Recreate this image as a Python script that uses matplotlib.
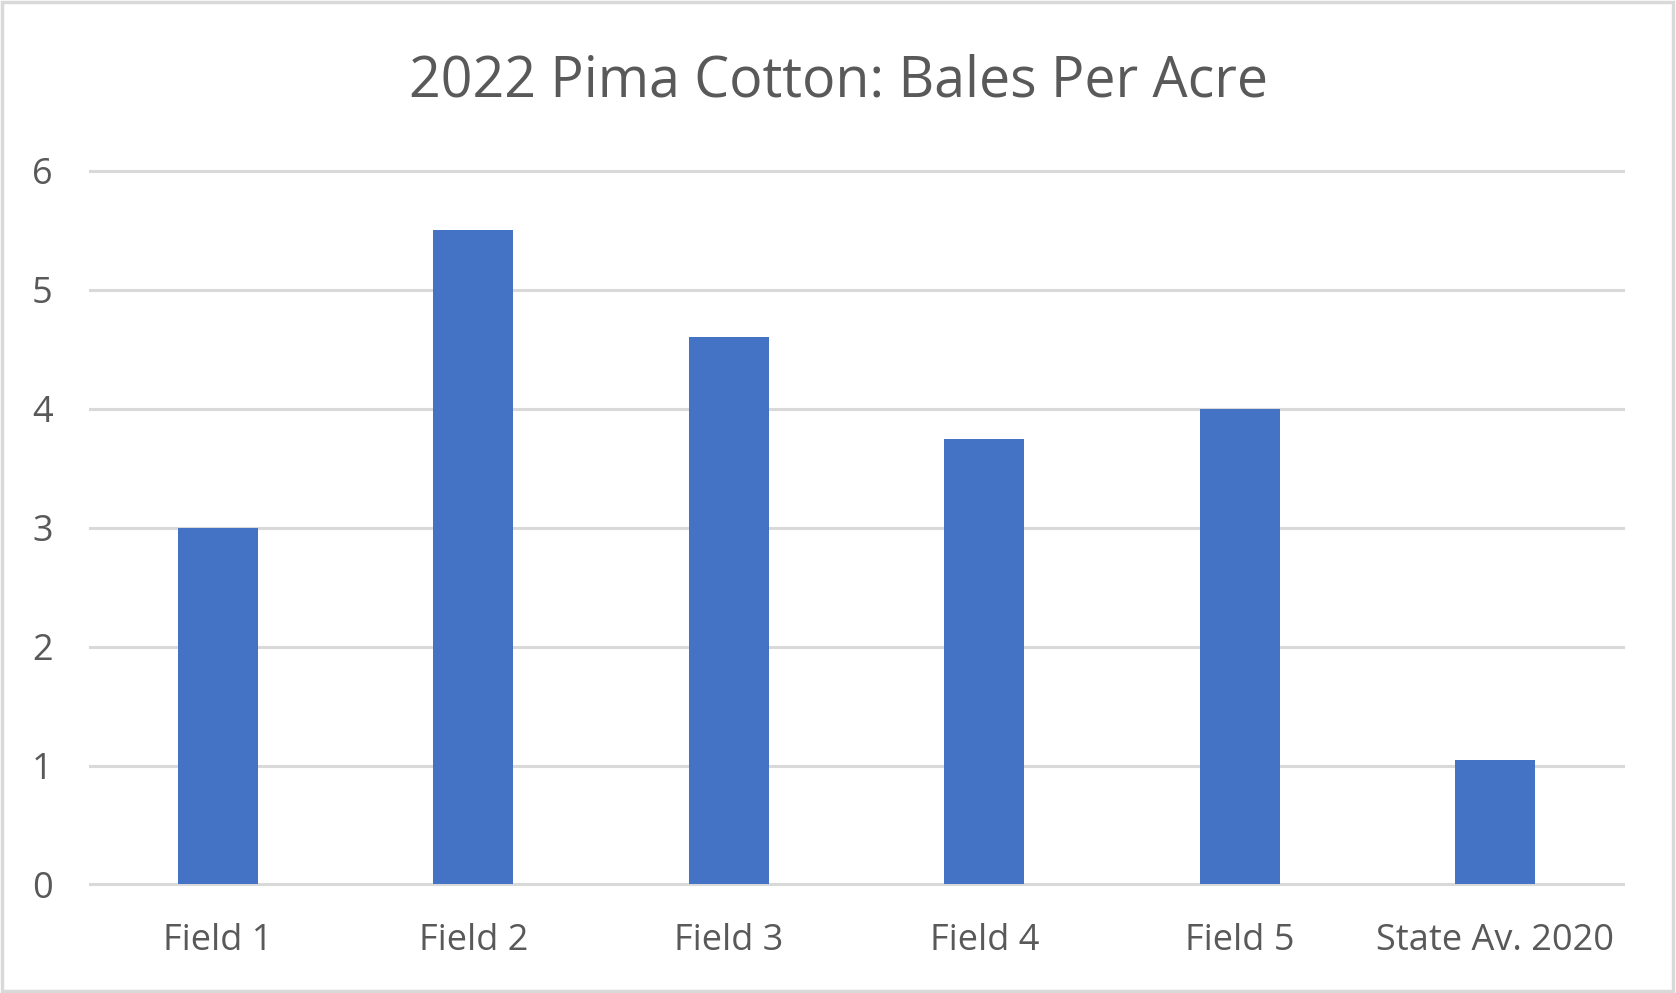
import matplotlib.pyplot as plt

categories = ["Field 1", "Field 2", "Field 3", "Field 4", "Field 5", "State Av. 2020"]
bales = [3.0, 5.5, 4.6, 3.75, 4.0, 1.05]
yticks = [0, 1, 2, 3, 4, 5, 6]

plt.rcParams['font.family'] = ['Open Sans', 'DejaVu Sans']
text_col = '#595959'
grid_col = '#d9d9d9'

fig = plt.figure(figsize=(16.76, 9.93), dpi=100)
ax = fig.add_axes([0.0537, 0.1093, 0.9147, 0.7185])

x = list(range(len(categories)))
ax.bar(x, bales, width=0.313, color='#4472c4', zorder=3)

ax.set_xlim(-0.5, len(categories) - 0.5)
ax.set_ylim(0, 6)
ax.set_yticks(yticks)
ax.set_xticks(x)
ax.set_xticklabels(categories)

for s in ax.spines.values():
    s.set_visible(False)
ax.yaxis.grid(True, color=grid_col, linewidth=2.2, zorder=0)
for gl in ax.get_ygridlines():
    gl.set_clip_on(False)
ax.set_axisbelow(True)

ax.tick_params(axis='y', length=0, labelsize=26, labelcolor=text_col, pad=27)
ax.tick_params(axis='x', length=0, labelsize=26, labelcolor=text_col, pad=28)

fig.text(0.5, 0.9033, "2022 Pima Cotton: Bales Per Acre", ha='center', va='baseline',
         fontsize=40, color=text_col)

# light border round the chart
border = plt.Rectangle((0.001, 0.002), 0.997, 0.996, transform=fig.transFigure,
                       fill=False, edgecolor=grid_col, linewidth=2.5)
fig.patches.append(border)

fig.savefig('out.png', dpi=100)
